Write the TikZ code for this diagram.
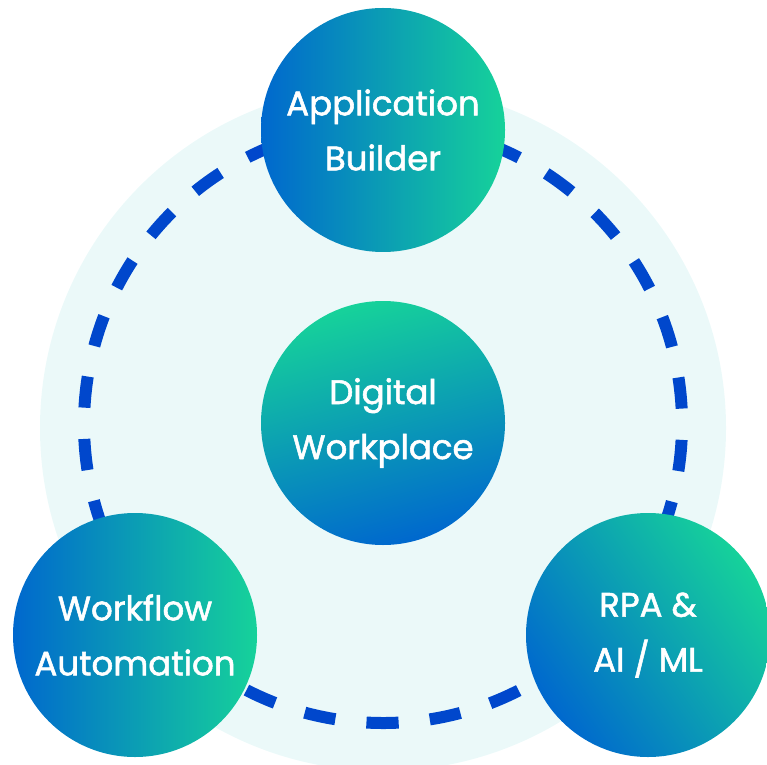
\documentclass[tikz,border=0pt]{standalone}
\usepackage{fontspec}
\setmainfont{Poppins}[FakeBold=1.6]
\usetikzlibrary{calc}
\definecolor{ringbg}{HTML}{EBF9F9}
\definecolor{dashblue}{HTML}{0047CC}
\definecolor{gblue}{HTML}{0068CE}
\definecolor{ggreen}{HTML}{16D29A}
\tikzset{
  bub/.style={circle, minimum size=244pt, inner sep=0pt, align=center,
    text=white, font=\fontsize{34}{55}\selectfont},
  ring/.style={draw=dashblue, line width=12pt, dash pattern=on 31.3pt off 31.3pt}
}
\begin{document}
\begin{tikzpicture}[x=1pt,y=1pt]
\useasboundingbox (0,0) rectangle (767,764);
\fill[ringbg] (383,336) circle (343);
\coordinate (ringstart) at ($(383,340)+(267:299)$);
\draw[ring] (ringstart) arc[start angle=267, end angle=627, radius=299];
\node[bub, left color=gblue, right color=ggreen] (ab) at (383,634) {Application\\Builder};
\node[bub, top color=ggreen, bottom color=gblue, shading angle=15] (dw) at (383,341) {Digital\\Workplace};
\node[bub, left color=gblue, right color=ggreen] (wa) at (135,129) {Workflow\\Automation};
\node[bub, top color=ggreen, bottom color=gblue, shading angle=-55] (rpa) at (648,129) {RPA \&\\AI / ML};
\end{tikzpicture}
\end{document}
